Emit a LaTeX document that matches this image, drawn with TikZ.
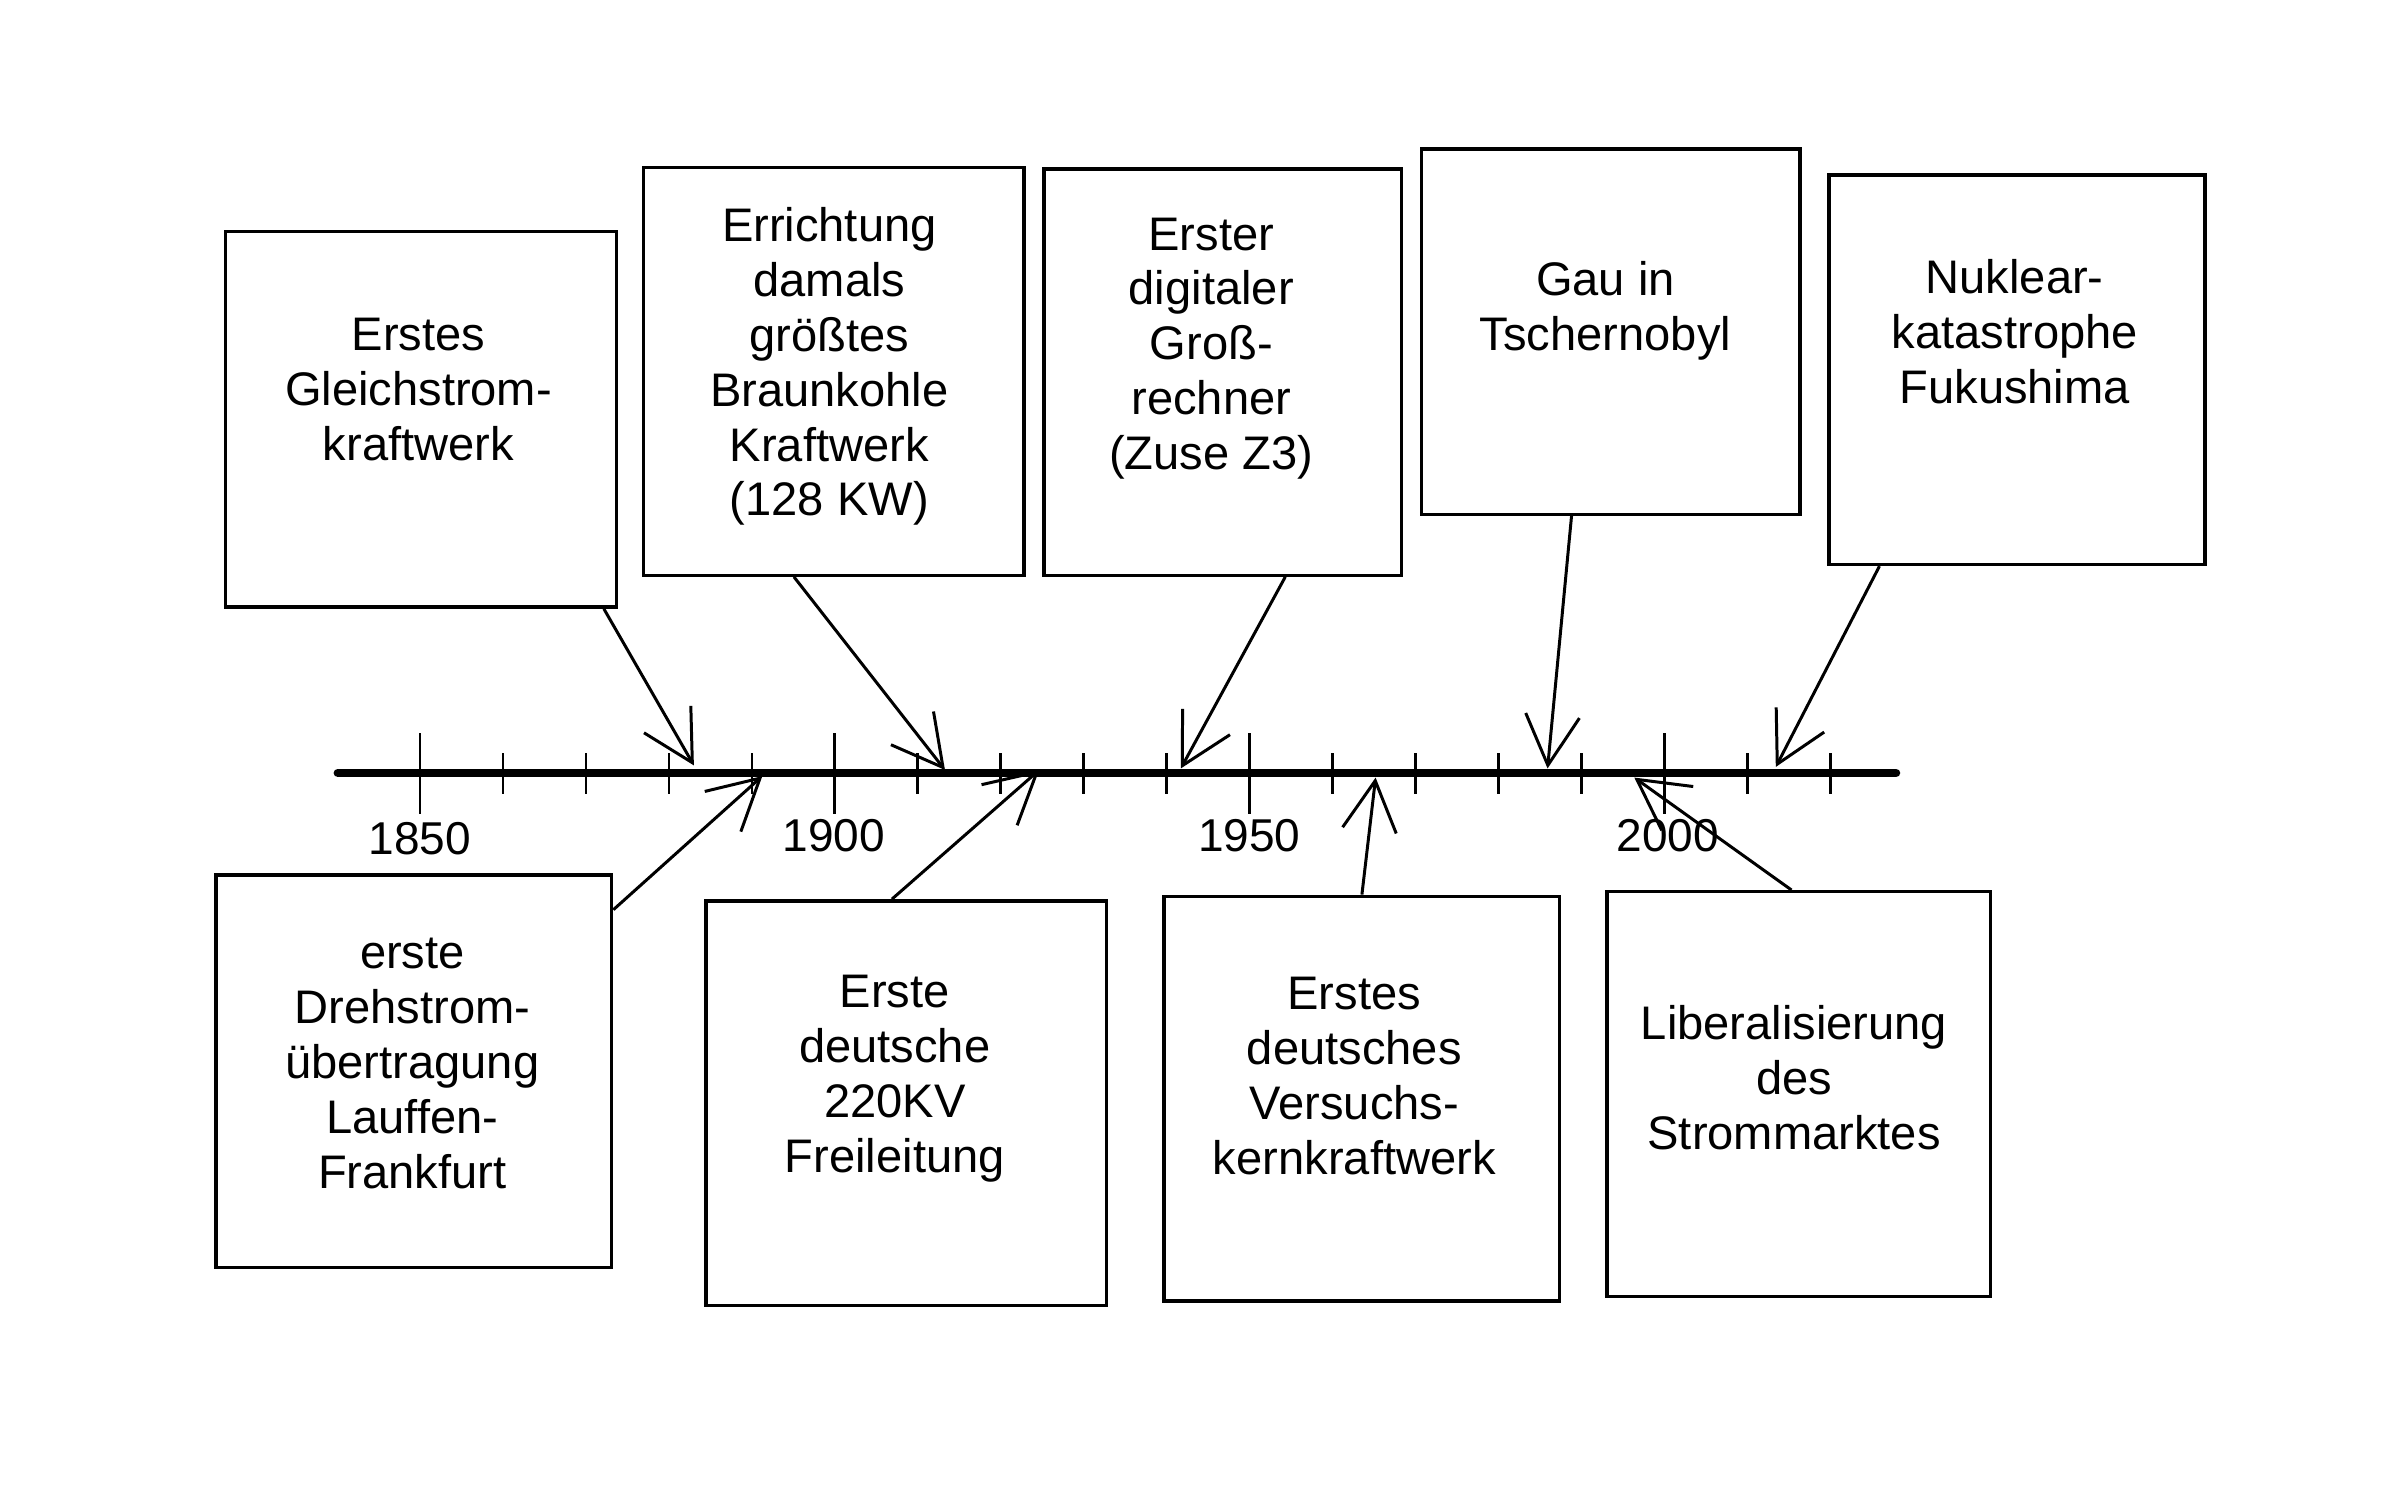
\documentclass[tikz,border=0pt]{standalone}
\usepackage{fontspec}
\setmainfont{Liberation Sans}
\usetikzlibrary{arrows.meta,fit,calc}

\begin{document}
\begin{tikzpicture}[x=0.15217mm, y=-0.15217mm]
            \tikzstyle{kasten}=[draw, line width=0.95pt, inner sep=0pt]
            \tikzstyle{txt}=[align=center, inner sep=0pt, font=\fontsize{13.4}{15.6}\selectfont]
            \tikzstyle{jahr}=[inner sep=0pt, font=\fontsize{13.1}{15}\selectfont]
            \tikzstyle{pfeil}=[line width=0.85pt, -{Straight Barb[length=5mm, width=5.4mm]}]
            \useasboundingbox (0,0) rectangle (1568,980);
            % zeitstrahl mit strichen
            \draw[line width=2.4pt, line cap=round] (222,508) -- (1246,508);
            \foreach \j in {1860,1870,...,2020} \draw[line width=0.8pt] ({276+(\j-1850)*5.4533},495) -- ++(0,27);
            \foreach \j in {1850,1900,1950,2000} \draw[line width=0.8pt] ({276+(\j-1850)*5.4533},482) -- ++(0,53);
            \node[jahr] (j1850) at (276,551) {1850};
            \node[jahr] (j1900) at (548,549) {1900};
            \node[jahr] (j1950) at (821,549) {1950};
            \node[jahr] (j2000) at (1096,549) {2000};
            \coordinate (t1) at (456,503);
            \coordinate (t2) at (621,506);
            \coordinate (t3) at (776,505);
            \coordinate (t4) at (1017,505);
            \coordinate (t5) at (1167,504);
            \coordinate (b1) at (501,510);
            \coordinate (b2) at (683,506);
            \coordinate (b3) at (904,511);
            \coordinate (b4) at (1074,511);
            % oben
            \node[kasten, fit={(148,152) (405,399)}] (gleichbox) {};
            \node[kasten, fit={(423,110) (673,378)}] (braunbox) {};
            \node[kasten, fit={(686,111) (921,378)}] (zusebox) {};
            \node[kasten, fit={(934,98) (1183,338)}] (tscherbox) {};
            \node[kasten, fit={(1202,115) (1449,371)}] (fukubox) {};
            \node[txt] (gleich) at (275,256) {Erstes\\Gleichstrom-\\kraftwerk};
            \node[txt] (braun) at (545,241) {Errichtung\\damals\\größtes\\Braunkohle\\Kraftwerk\\(128 KW)};
            \node[txt] (zuse) at (796,229) {Erster\\digitaler\\Groß-\\rechner\\(Zuse Z3)};
            \node[txt] (tscher) at (1055,204) {Gau in\\Tschernobyl};
            \node[txt] (fuku) at (1324,218) {Nuklear-\\katastrophe\\Fukushima};
            % unten
            \node[kasten, fit={(142,575) (402,833)}] (drehbox) {};
            \node[kasten, fit={(464,592) (727,858)}] (freibox) {};
            \node[kasten, fit={(765,589) (1025,855)}] (kernbox) {};
            \node[kasten, fit={(1056,586) (1308,852)}] (marktbox) {};
            \node[txt] (dreh) at (271,699) {erste\\Drehstrom-\\übertragung\\Lauffen-\\Frankfurt};
            \node[txt] (frei) at (588,709) {Erste\\deutsche\\220KV\\Freileitung};
            \node[txt] (kern) at (890,707) {Erstes\\deutsches\\Versuchs-\\kernkraftwerk};
            \node[txt] (markt) at (1179,708) {Liberalisierung\\des\\Strommarktes};
            \draw[pfeil] (gleichbox.-46) -- (t1);
            \draw[pfeil] (braunbox.-101) -- (t2);
            \draw[pfeil] (zusebox.-73.5) -- (t3);
            \draw[pfeil] (tscherbox.-102) -- (t4);
            \draw[pfeil] (fukubox.-125) -- (t5);
            \draw[pfeil] (drehbox.39.5) -- (b1);
            \draw[pfeil] (freibox.94.1) -- (b2);
            \draw[pfeil] (kernbox.north) -- (b3);
            \draw[pfeil] (marktbox.92.6) -- (b4);
        \end{tikzpicture}
\end{document}
